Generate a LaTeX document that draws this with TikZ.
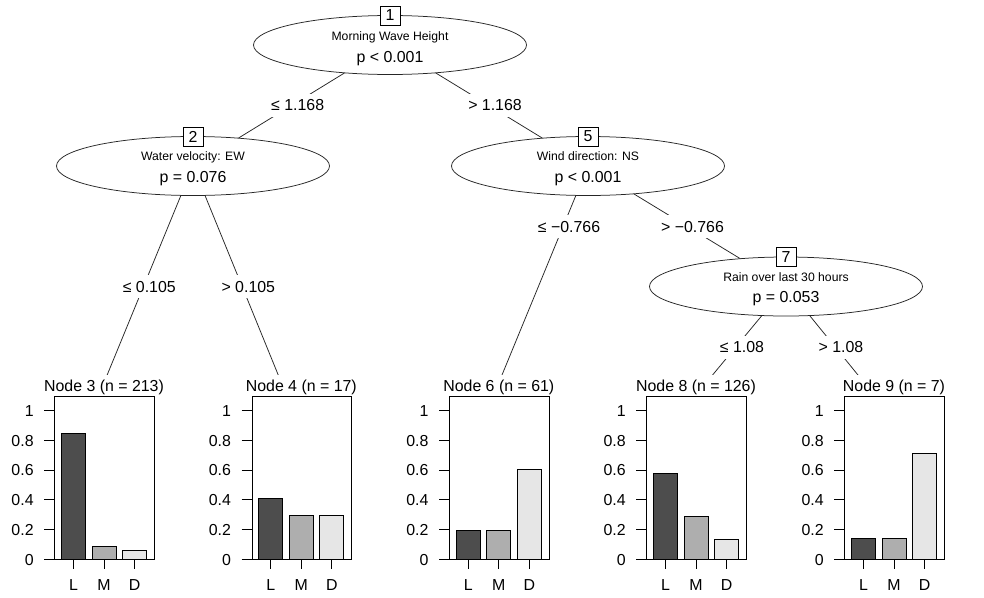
\documentclass[tikz,border=0pt]{standalone}
\usepackage{fontspec}
\setmainfont{Liberation Sans}
\usetikzlibrary{shapes.geometric,backgrounds}
\definecolor{barL}{HTML}{4D4D4D}
\definecolor{barM}{HTML}{AEAEAE}
\definecolor{barD}{HTML}{E6E6E6}
\newcommand\bigf{\fontsize{15.9}{19}\selectfont}
\newcommand\smallf{\fontsize{12.2}{14}\selectfont}
\tikzset{
  edge/.style={draw=black!85, line width=0.75pt},
  innernode/.style={ellipse, draw=black!85, line width=0.75pt, fill=white,
    minimum width=273pt, minimum height=59pt, inner sep=0pt},
  idbox/.style={draw=black, line width=0.75pt, fill=white, minimum width=20pt,
    minimum height=19pt, inner sep=0pt, font=\bigf},
  vartext/.style={font=\smallf, inner sep=0pt, anchor=base},
  ptext/.style={font=\bigf, inner sep=0pt, anchor=base},
  elabel/.style={fill=white, font=\bigf, text height=11.4pt, text depth=0pt,
    minimum height=23pt, inner xsep=1pt, inner ysep=0pt},
  ptitle/.style={fill=white, font=\bigf, anchor=base, inner xsep=1pt, inner ysep=5pt},
  pbox/.style={draw=black, line width=0.8pt, fill=white, inner sep=0pt,
    minimum width=99.4pt, minimum height=162.6pt, anchor=south west},
  barrect/.style={draw=black, line width=0.8pt},
  tickline/.style={draw=black, line width=0.8pt},
  ticklab/.style={font=\bigf, inner sep=0pt, text height=11.4pt, text depth=0pt},
}
% #1 centre x, #2 node id, #3 n, #4 L, #5 M, #6 D
\newcommand\barpanel[6]{%
  \node[ptitle] (title#2) at (#1,391.7) {Node #2 (n = #3)};
  \node[pbox] (box#2) at ({#1-49.7},559.3) {};
  \foreach \v in {0,0.2,0.4,0.6,0.8,1}{%
    \draw[tickline] ({#1-59.7},{559.3-148.6*\v}) -- ({#1-49.7},{559.3-148.6*\v});
    \node[ticklab, anchor=east] at ({#1-70.2},{559.3-148.6*\v}) {\v};
  }
  \draw[barrect, fill=barL] ({#1-42.5},559.3) rectangle ({#1-18.5},{559.3-148.6*#4});
  \draw[barrect, fill=barM] ({#1-12},559.3) rectangle ({#1+12},{559.3-148.6*#5});
  \draw[barrect, fill=barD] ({#1+18.5},559.3) rectangle ({#1+42.5},{559.3-148.6*#6});
  \foreach \dx/\lab in {-30.5/L,0/M,30.5/D}{%
    \draw[tickline] ({#1+\dx},559.3) -- ({#1+\dx},569.3);
    \node[ticklab, anchor=center] at ({#1+\dx},584.5) {\lab};
  }
}
\begin{document}
\begin{tikzpicture}[x=1pt,y=-1pt]
\useasboundingbox (0,0) rectangle (984,597);

% inner nodes
\node[innernode] (n1) at (390,45) {};
\node[innernode] (n2) at (193,166) {};
\node[innernode] (n5) at (588,166) {};
\node[innernode] (n7) at (786,286.5) {};

% terminal connection points
\coordinate (t3) at (94,407);
\coordinate (t4) at (291.3,407);
\coordinate (t6) at (488.8,407);
\coordinate (t8) at (686,407);
\coordinate (t9) at (884,407);

\begin{pgfonlayer}{background}
  \fill[white] (0,0) rectangle (984,597);
  \draw[edge] (n1.center) -- (n2.center);
  \draw[edge] (n1.center) -- (n5.center);
  \draw[edge] (n2.center) -- (t3);
  \draw[edge] (n2.center) -- (t4);
  \draw[edge] (n5.center) -- (t6);
  \draw[edge] (n5.center) -- (n7.center);
  \draw[edge] (n7.center) -- (t8);
  \draw[edge] (n7.center) -- (t9);
\end{pgfonlayer}

% node ids and texts
\node[idbox] (id1) at (390,15.5) {1};
\node[vartext] (v1) at (390,40.5) {Morning Wave Height};
\node[ptext] (p1) at (390,62) {p < 0.001};

\node[idbox] (id2) at (193,136.5) {2};
\node[vartext] (v2) at (193,160.5) {Water velocity: EW};
\node[ptext] (p2) at (193,182) {p = 0.076};

\node[idbox] (id5) at (588,136.5) {5};
\node[vartext] (v5) at (588,160.5) {Wind direction: NS};
\node[ptext] (p5) at (588,182) {p < 0.001};

\node[idbox] (id7) at (786,257) {7};
\node[vartext] (v7) at (786,281) {Rain over last 30 hours};
\node[ptext] (p7) at (786,302.7) {p = 0.053};

% edge labels
\node[elabel] (l12) at (297.7,105) {≤ 1.168};
\node[elabel] (l15) at (495,105) {> 1.168};
\node[elabel] (l23) at (149.3,286.7) {≤ 0.105};
\node[elabel] (l24) at (248.3,286.7) {> 0.105};
\node[elabel] (l56) at (569,226.7) {≤ −0.766};
\node[elabel] (l57) at (692.5,226.7) {> −0.766};
\node[elabel] (l78) at (742,347) {≤ 1.08};
\node[elabel] (l79) at (841,347) {> 1.08};

% terminal panels
\barpanel{104}{3}{213}{0.850}{0.089}{0.061}
\barpanel{301.3}{4}{17}{0.412}{0.294}{0.294}
\barpanel{498.8}{6}{61}{0.197}{0.197}{0.607}
\barpanel{696}{8}{126}{0.579}{0.286}{0.135}
\barpanel{894}{9}{7}{0.143}{0.143}{0.714}
\end{tikzpicture}
\end{document}
